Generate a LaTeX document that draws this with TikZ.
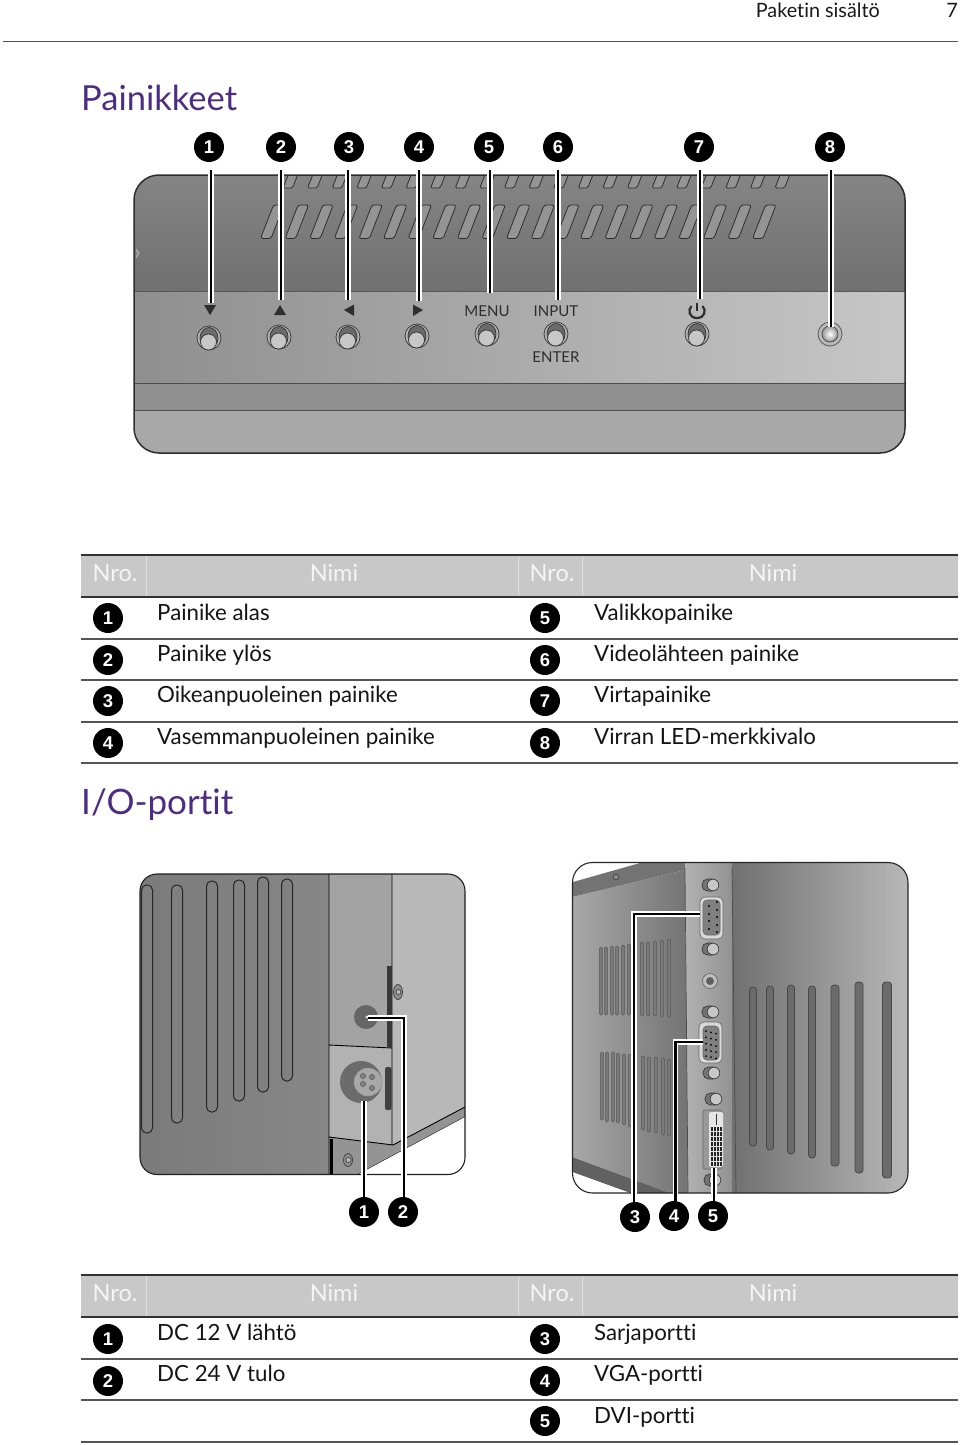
\documentclass[tikz,border=0pt]{standalone}
\usepackage{fontspec}
\setmainfont{Lato}[Ligatures=NoCommon]
\newfontfamily\badgefont{Liberation Sans}
\definecolor{titlepurple}{HTML}{4D2D84}
\definecolor{rulegray}{HTML}{555557}
\definecolor{headgray}{HTML}{C8C8C9}
\definecolor{inkdark}{HTML}{2E2E30}
\newcommand\fs[1]{\fontsize{#1}{#1}\selectfont}
\tikzset{
  badge/.style={circle,fill=black,text=white,minimum size=30pt,inner sep=0pt,font=\badgefont\bfseries\fs{18.5}},
  leader/.style={draw=white,double=black,line width=1.5pt,double distance=2.2pt,line join=miter},
  toplead/.style={leader,shorten <=8pt},
  lowlead/.style={leader},
  cell/.style={anchor=base west,inner sep=0pt,font=\fs{22.3},text=black!92},
  headcell/.style={anchor=base,inner sep=0pt,font=\fs{23.5},text=white!96!black},
  paneltext/.style={anchor=base,inner sep=0pt,font=\fs{15},text=inkdark},
  ventbar/.style={draw=inkdark,line width=.8pt,fill=#1},
  ventbar/.default={black!42!white},
  outline/.style={draw=inkdark,line width=1.5pt},
  sline/.style={draw=black,line width=.9pt},
  pin/.style={fill=black!80,draw=none},
  screw/.style={draw=black!75,line width=.7pt}
}
\newcommand\panelbutton[2]{%
  \begin{scope}[shift={(#1,#2)}]
    \draw[draw=black!75,line width=.8pt,fill=black!30] (0,0) circle (12pt);
    \draw[draw=black!80,line width=.7pt,fill=black!58] (0,0) ellipse [x radius=9pt,y radius=10.5pt];
    \draw[draw=black!80,line width=.7pt,fill=black!22] (-.5,4) circle (8pt);
  \end{scope}}
\newcommand\thumb[2]{%
  \draw[draw=black!80,line width=.6pt,fill=black!55,rounded corners=5.5pt] (#1-8,#2-6) rectangle (#1+8,#2+6);
  \draw[draw=black!80,line width=.6pt,fill=black!22] (#1+3,#2) circle (5.8pt);}
\newcommand\tablehead[1]{%
  \fill[headgray] (81,#1) rectangle (958,#1+42);
  \draw[white!88!black,line width=.6pt] (146,#1) -- (146,#1+42) (518,#1) -- (518,#1+42) (582,#1) -- (582,#1+42);
  \draw[rulegray!60!black,line width=2pt] (81,#1) -- (958,#1) (81,#1+42) -- (958,#1+42);
  }
\begin{document}
\begin{tikzpicture}[x=1pt,y=-1pt]
\useasboundingbox (0,0) rectangle (960,1445);
\fill[white] (0,0) rectangle (960,1445);
% page head
\node[anchor=base east,inner sep=0pt,font=\fs{19.8},text=black!90] (hd) at (880,18) {Paketin sisältö};
\node[anchor=base east,inner sep=0pt,font=\fs{19.8},text=black!90] (pg) at (958,18) {7};
\draw[rulegray,line width=1.2pt] (3,41.5) -- (958,41.5);
\node[anchor=base west,inner sep=0pt,font=\fs{34.5},text=titlepurple] (t1) at (81,110) {Painikkeet};
\node[anchor=base west,inner sep=0pt,font=\fs{35},text=titlepurple] (t2) at (81,814) {I/O-portit};
% ---- front panel
\begin{scope}
  \clip[rounded corners=25pt] (134,175) rectangle (905,453);
  \shade[top color=black!48,bottom color=black!56] (134,175) rectangle (905,291);
  \shade[left color=black!44,right color=black!22] (134,291) rectangle (905,383);
  \fill[black!44] (134,383) rectangle (905,410);
  \fill[black!34] (134,410) rectangle (905,453);
  \foreach \i in {0,...,20}{
    \draw[ventbar,rounded corners=1.5pt] ({288.5+24.6*\i},174) -- ({298+24.6*\i},174) -- ({292.5+24.6*\i},188) -- ({283+24.6*\i},188) -- cycle;
    \draw[ventbar,rounded corners=2.5pt] ({273.5+24.6*\i},205) -- ({284+24.6*\i},205) -- ({271+24.6*\i},238.5) -- ({260.5+24.6*\i},238.5) -- cycle;
  }
  \draw[black!65,line width=1pt] (134,291) -- (905,291);
  \draw[black!70,line width=1pt] (134,383) -- (905,383);
  \draw[black!70,line width=1pt] (134,410) -- (905,410);
  \draw[black!25,line width=.7pt,fill=black!45] (136,249) -- (139,253) -- (136,258);
\end{scope}
\draw[outline,rounded corners=25pt] (134,175) rectangle (905,453);
\panelbutton{209}{338}\panelbutton{279}{337}\panelbutton{348}{337}\panelbutton{417}{336}
\panelbutton{487}{334}\panelbutton{556}{334}\panelbutton{697}{334}
\draw[draw=black!65,line width=.8pt,fill=black!27] (830,334) circle (12pt);
\draw[draw=black!70,line width=.8pt,fill=black!35] (830,334) circle (8pt);
\shade[inner color=white,outer color=black!30] (830,334) circle (6pt);
\fill[inkdark] (204,305) -- (216,305) -- (210,315) -- cycle;
\fill[inkdark] (274,315) -- (286,315) -- (280,305) -- cycle;
\fill[inkdark] (354,304.5) -- (354,316) -- (344,310) -- cycle;
\fill[inkdark] (413,304.5) -- (413,316) -- (423,310) -- cycle;
\node[paneltext] (lm) at (487,316) {MENU};
\node[paneltext] (li) at (556,316) {INPUT};
\node[paneltext] (le) at (556,362) {ENTER};
\draw[inkdark,line width=2.2pt] (702.5,306) .. controls (706.5,310) and (705,318) .. (697,318) .. controls (689,318) and (687.5,310) .. (691.5,306);
\draw[inkdark,line width=2.2pt] (697,303) -- (697,311);
% badges and leaders of the panel
\foreach \n/\x/\lx/\ly in {1/209/211/303,2/281/281/300,3/349/348/300,4/419/419/301,5/489/490/293,6/558/558/300,7/699/700/299,8/830/831/327}{
  \coordinate (pe\n) at (\lx,\ly);
  \node[badge] (pb\n) at (\x,147) {\n};
  \draw[toplead] (pb\n.south -| pe\n) -- (pe\n);
}
% ---- table 1
\tablehead{555}
\foreach \y in {639,680,722,763}{\draw[rulegray,line width=1.1pt] (81,\y) -- (958,\y);}
\node[headcell] (h1) at (115,581) {Nro.};
\node[headcell] (h2) at (334,581) {Nimi};
\node[headcell] (h3) at (552,581) {Nro.};
\node[headcell] (h4) at (773,581) {Nimi};
\foreach \n/\by/\ty/\txt in {1/618/620/Painike alas,2/660/661/Painike ylös,3/701/702/Oikeanpuoleinen painike,4/743/744/Vasemmanpuoleinen painike}{
  \node[badge] (ta\n) at (108,\by) {\n};
  \node[cell] (tx\n) at (157,\ty) {\txt};
}
\foreach \n/\by/\ty/\txt in {5/618/620/Valikkopainike,6/660/661/Videolähteen painike,7/701/702/Virtapainike,8/743/744/Virran LED-merkkivalo}{
  \node[badge] (ta\n) at (545,\by) {\n};
  \node[cell] (tx\n) at (594,\ty) {\txt};
}
% ---- left photo
\begin{scope}
  \clip[rounded corners=17pt] (140,874) rectangle (465,1174.5);
  \shade[left color=black!52,right color=black!47] (140,874) rectangle (329,1175);
  \foreach \x/\t/\b in {147/885/1133,177/885/1123,212/881/1112,239/880/1101,263/877/1092,287/879/1081}{
    \draw[draw=black!85,line width=1pt,fill=black!50,rounded corners=5pt] ({\x-5.5},\t) rectangle ({\x+5.5},\b);
  }
  \fill[black!36] (329,874) rectangle (392,1048);
  \fill[black!28] (392,874) -- (465,874) -- (465,1107) -- (393,1145) -- (392,1145) -- cycle;
  \fill[black!30] (329,1045) -- (392,1048) -- (392,1145) -- (329,1137) -- cycle;
  \fill[black!42] (329,1137) -- (393,1145) -- (465,1107) -- (465,1117) -- (357,1175) -- (329,1175) -- cycle;
  \draw[sline] (392,874) -- (392,1145) (329,874) -- (329,1175) (329,1045) -- (392,1048) (329,1137) -- (393,1145) -- (465,1107) (465,1117) -- (357,1175);
  \fill[white] (465,1117) -- (357,1175) -- (465,1175) -- cycle;
  \draw[black,line width=3pt] (331,1139) -- (331,1175);
  \fill[black!78] (386.5,966) rectangle (391.5,1048);
  \fill[black!75,rounded corners=2pt] (385,1067) rectangle (391.5,1110);
\end{scope}
\draw[draw=black!88,line width=1.1pt,rounded corners=17pt] (140,874) rectangle (465,1174.5);
\draw[screw,fill=black!45] (398,992) ellipse [x radius=4.5pt,y radius=7.5pt];
\draw[screw,fill=black!25] (398.5,992) circle (2.5pt);
\draw[screw,fill=black!45] (348,1160) ellipse [x radius=4.5pt,y radius=6.5pt];
\draw[screw,fill=black!25] (348.5,1160) circle (2.5pt);
\fill[black!60] (366,1017) circle (12pt);
\fill[white!90!black] (367,1017) circle (1.6pt);
\fill[black!58] (361,1082) circle (21pt);
\draw[draw=black!40,line width=.5pt,fill=black!34] (368,1082) circle (14pt);
\foreach \x/\y in {363/1076,372/1077,363/1084,372/1088}{\draw[draw=black!65,line width=.5pt,fill=black!50] (\x,\y) circle (2.6pt);}
\coordinate (le1) at (364,1101);
\coordinate (le2) at (368,1018);
\coordinate (lc2) at (404,1018);
\node[badge] (lb1) at (364,1212) {1};
\node[badge] (lb2) at (403,1212) {2};
\draw[lowlead] (le1) -- (le1 |- lb1.north);
\draw[lowlead] (le2) -- (lc2) -- (lc2 |- lb2.north);
% ---- right photo
\begin{scope}
  \clip[rounded corners=20pt] (572.5,862.5) rectangle (908,1193);
  \fill[white] (572,862) rectangle (640,900);
  \fill[black!55] (573,882) -- (640,863) -- (690,862) -- (685,870) -- (573,897) -- cycle;
  \shade[left color=black!34,right color=black!55] (572,897) -- (685,870) -- (690,1193) -- (670,1193) -- (572,1157) -- cycle;
  \fill[black!62] (572,1157) -- (670,1193) -- (630,1193) -- (572,1172) -- cycle;
  \fill[white] (572,1172) -- (630,1193) -- (572,1193) -- cycle;
  \shade[left color=black!30,right color=black!44] (685,862) -- (732,862) -- (736,1193) -- (688,1193) -- cycle;
  \shade[left color=black!56,right color=black!28] (732,862) rectangle (908,1193);
  \draw[black!70,line width=.7pt] (685,868) -- (688,1193) (732,868) -- (736,1193);
  \foreach \x/\t/\b in {601/947/1015,606/947/1015,612/946/1015,617/946/1015,623/945/1015,629/944/1015,642/942/1016,648/942/1016,655/941/1016,662/940/1017,669/939/1017,602/1052/1120,607/1052/1122,613/1052/1122,618/1053/1123,624/1054/1125,630/1054/1127,643/1056/1130,649/1057/1132,656/1057/1133,663/1058/1135,669/1059/1136}{
    \draw[draw=black!65,line width=.5pt,fill=black!52,rounded corners=1.4pt] ({\x-1.6},\t) rectangle ({\x+1.6},\b);
  }
  \foreach \x/\t/\b/\w in {753/987/1146/3.5,770/986/1150/3.5,791/985/1154/3.5,812/986/1158/3.5,835/985/1166/4,859/982/1173/4,887/982/1178/4.5}{
    \draw[draw=black!72,line width=.8pt,fill=black!58,rounded corners=3.2pt] ({\x-\w},\t) rectangle ({\x+\w},\b);
  }
\end{scope}
\draw[draw=black!85,line width=1.1pt,rounded corners=20pt] (572.5,862.5) rectangle (908,1193);
\draw[screw,fill=black!45] (616,877) circle (2.8pt);
\thumb{710}{885}\thumb{710}{949}\thumb{710}{1012}\thumb{711}{1073}\thumb{713}{1099}\thumb{712}{1180}
\draw[draw=black!60,line width=.7pt,fill=black!25] (710,981) circle (7.5pt);
\fill[black!62] (710,981) circle (4pt);
% serial connector
\draw[draw=black!60,line width=.6pt,fill=black!15,rounded corners=5pt] (700,897) rectangle (723,939);
\draw[draw=black!60,line width=.6pt,fill=black!50,rounded corners=4pt] (703,900) rectangle (720,935);
\foreach \y in {902,910,917,925,932}{\fill[black] (717,\y) circle (1.2pt);}
\foreach \y in {906,914,921,929}{\fill[black] (709,\y) circle (1.2pt);}
% VGA connector
\draw[draw=black!60,line width=.6pt,fill=black!15,rounded corners=5pt] (699,1022) rectangle (722,1063);
\draw[draw=black!60,line width=.6pt,fill=black!50,rounded corners=4pt] (703,1026) rectangle (719,1060);
\foreach \x/\s in {706/1,711/2,716/3}{\foreach \k in {0,...,4}{\fill[black] (\x,{1030+\s*1.2+\k*6.2}) circle (1pt);}}
% DVI connector
\draw[draw=black!60,line width=.6pt,fill=black!40,rounded corners=2pt] (703,1110) rectangle (722,1169);
\fill[white!90!black,rounded corners=2pt] (709,1112) rectangle (723,1167);
\draw[black!80,line width=.9pt] (716,1114) -- (716,1125);
\foreach \r in {0,...,7}{\foreach \c in {0,...,3}{\fill[black!85] ({710.5+\c*3},{1127+\r*5}) rectangle ({712.7+\c*3},{1130.8+\r*5});}}
\coordinate (re3) at (700,914);
\coordinate (rc3) at (634,914);
\coordinate (re4) at (703,1042);
\coordinate (rc4) at (675.5,1042);
\coordinate (re5) at (714,1168);
\node[badge] (rb3) at (635,1217) {3};
\node[badge] (rb4) at (674,1216) {4};
\node[badge] (rb5) at (713,1216) {5};
\draw[lowlead] (re3) -- (rc3) -- (rc3 |- rb3.north);
\draw[lowlead] (re4) -- (rc4) -- (rc4 |- rb4.north);
\draw[lowlead] (re5) -- (re5 |- rb5.north);
% ---- table 2
\tablehead{1275}
\foreach \y in {1359,1400,1442}{\draw[rulegray,line width=1.1pt] (81,\y) -- (958,\y);}
\node[headcell] (k1) at (115,1301) {Nro.};
\node[headcell] (k2) at (334,1301) {Nimi};
\node[headcell] (k3) at (552,1301) {Nro.};
\node[headcell] (k4) at (773,1301) {Nimi};
\foreach \n/\by/\ty/\txt in {1/1339/1340/DC 12 V lähtö,2/1381/1381/DC 24 V tulo}{
  \node[badge] (ua\n) at (108,\by) {\n};
  \node[cell] (ux\n) at (157,\ty) {\txt};
}
\foreach \n/\by/\ty/\txt in {3/1339/1340/Sarjaportti,4/1381/1381/VGA-portti,5/1421/1423/DVI-portti}{
  \node[badge] (ua\n) at (545,\by) {\n};
  \node[cell] (ux\n) at (594,\ty) {\txt};
}
\end{tikzpicture}
\end{document}
